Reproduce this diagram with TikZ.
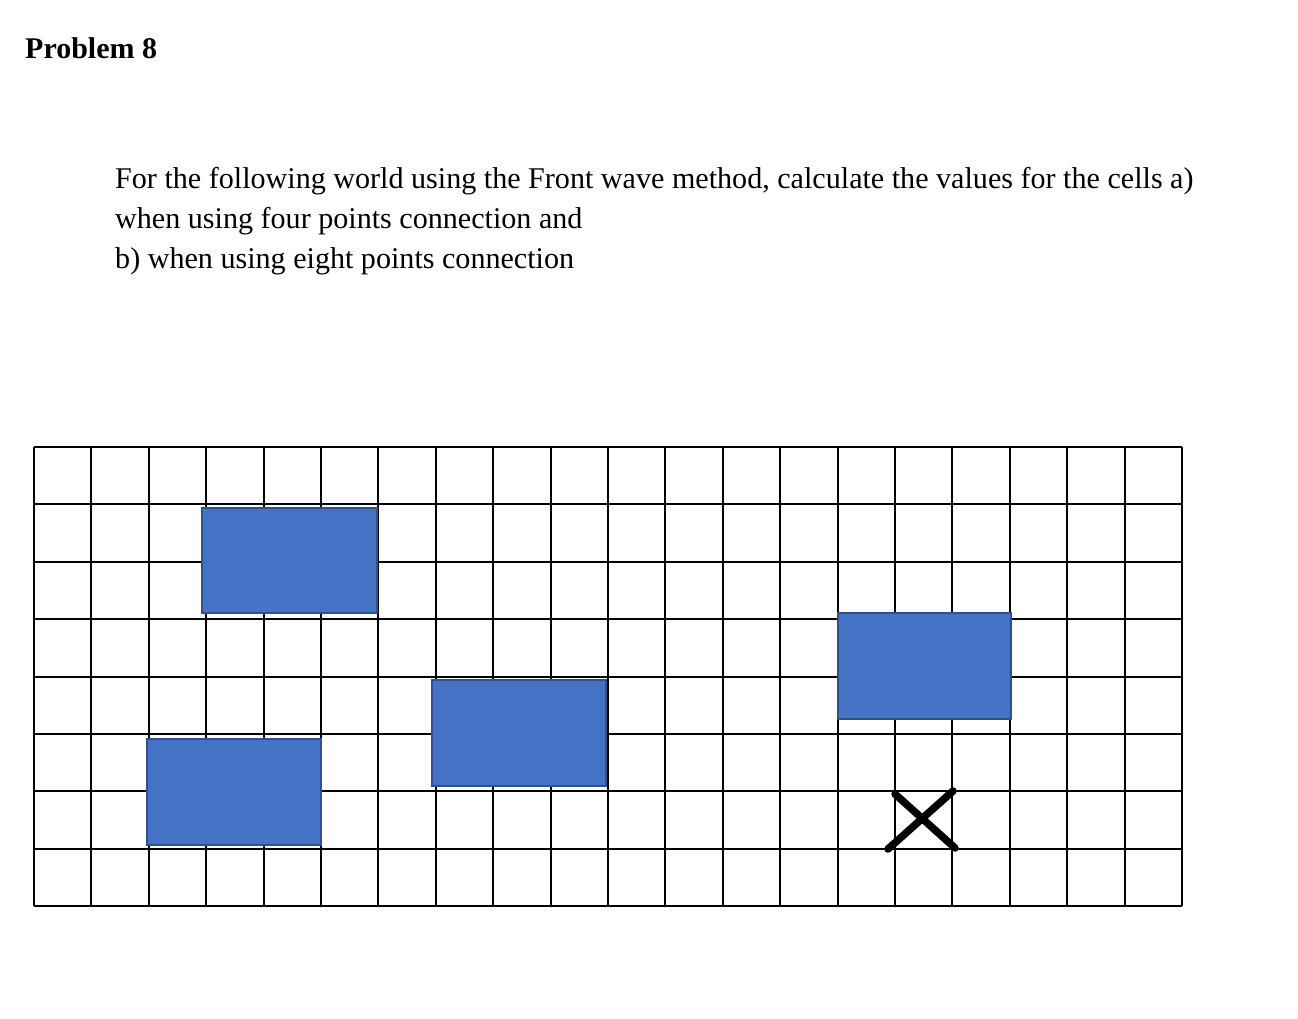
\documentclass[tikz,border=0pt]{standalone}
\usepackage{fontspec}
\setmainfont{Liberation Serif}
\definecolor{obfill}{HTML}{4472C4}
\definecolor{obline}{HTML}{2F528F}
\begin{document}
\begin{tikzpicture}[x=1pt,y=-1pt,
  gridline/.style={line width=2pt,black},
  obstacle/.style={fill=obfill,draw=obline,line width=1.5pt},
  body/.style={anchor=base west,inner sep=0pt,font=\fontsize{30.1}{34}\selectfont},
  crossmark/.style={line width=7.5pt,line cap=round,black}]
\useasboundingbox (0,0) rectangle (1298,1018);
\fill[white] (0,0) rectangle (1298,1018);
\node[anchor=base west,inner sep=0pt,font=\fontsize{30}{34}\selectfont\bfseries] (title) at (25,58) {Problem 8};
\node[body] (l1) at (115,188) {For the following world using the Front wave method, calculate the values for the cells a)};
\node[body] (l2) at (115,228) {when using four points connection and};
\node[body] (l3) at (115,268) {b) when using eight points connection};
% grid
\foreach \i in {0,...,20} {
  \draw[gridline] ({34+\i*57.4},447) -- ({34+\i*57.4},906);
}
\foreach \j in {0,...,8} {
  \draw[gridline] (34,{447+\j*57.375}) -- (1182,{447+\j*57.375});
}
% obstacles
\draw[obstacle] (202,508) rectangle (377,613);
\draw[obstacle] (147,739) rectangle (321,845);
\draw[obstacle] (432,680) rectangle (606,786);
\draw[obstacle] (838,613) rectangle (1011,719);
% target mark
\coordinate (xa) at (888,849);
\coordinate (xb) at (953,791);
\coordinate (xc) at (895,794);
\coordinate (xd) at (955,848);
\draw[crossmark] (xa) -- (xb);
\draw[crossmark] (xc) -- (xd);
\end{tikzpicture}
\end{document}
